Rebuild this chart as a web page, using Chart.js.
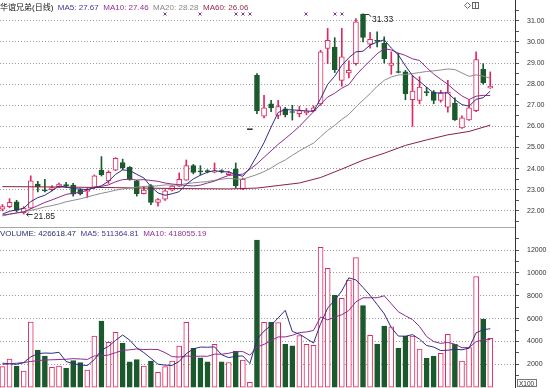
<!DOCTYPE html>
<html>
<head>
<meta charset="utf-8">
<title>华谊兄弟(日线)</title>
<script src="https://cdn.jsdelivr.net/npm/chart.js@4.4.1/dist/chart.umd.min.js"></script>
<style>
  body { margin: 0; background: #fff; }
  #box { position: relative; width: 550px; height: 388px; overflow: hidden; background: #fff; }
  #box canvas { position: absolute; left: 0; }
  #priceChart { top: 0; }
  #volChart { top: 228px; }
</style>
</head>
<body>
<div id="box">
  <canvas id="priceChart" width="550" height="228"></canvas>
  <canvas id="volChart" width="550" height="160"></canvas>
</div>
<script>
// daily candles, index 0 = first visible day
var opens = [22.08,22.2,22.43,21.92,22.13,23.27,23.0,23.0,23.15,23.25,
  23.22,22.98,22.92,23.11,23.93,23.42,23.93,24.29,24.06,23.42,
  22.82,23.2,22.4,22.55,22.98,23.17,23.46,24.14,23.88,23.88,
  23.83,23.88,23.72,23.98,23.03,25.85,28.42,26.48,27.07,26.52,
  26.83,26.68,26.6,26.65,26.75,27.07,29.69,29.76,28.18,28.53,
  28.97,31.32,29.89,30.08,29.93,28.89,28.58,28.58,27.26,27.23,
  27.63,27.62,27.23,26.91,27.1,25.93,26.31,26.75,28.7,27.82];
var closes = [22.2,22.4,22.03,22.13,23.42,23.15,22.95,23.1,23.27,23.18,
  22.79,22.82,22.98,23.66,23.71,23.82,24.49,24.03,23.5,22.82,
  22.98,22.4,22.54,22.95,23.17,23.49,24.14,23.82,23.85,23.86,
  23.87,23.86,23.8,23.19,23.5,25.85,26.74,26.88,26.88,26.94,
  26.56,26.66,26.75,26.72,26.88,29.53,30.08,28.69,29.29,28.66,
  30.95,30.21,30.12,30.03,29.21,29.0,28.55,27.55,27.67,27.86,
  27.6,27.23,27.58,27.62,26.31,26.41,26.88,29.16,28.06,27.9];
var highs = [22.3,22.58,22.5,22.2,23.66,23.4,23.5,23.2,23.32,23.35,
  23.3,23.05,23.08,23.7,24.57,23.9,24.52,24.45,24.1,23.45,
  23.15,23.25,22.58,23.0,23.2,23.8,24.41,24.2,24.14,23.95,
  24.27,23.95,23.88,24.27,23.55,25.85,28.5,27.47,27.23,27.23,
  26.9,27.0,26.95,26.85,26.98,29.6,30.64,30.2,30.64,29.1,
  31.1,31.33,30.45,30.48,30.24,29.53,29.46,28.65,28.42,28.35,
  27.85,27.7,27.7,28.18,27.35,26.5,27.25,29.53,28.97,28.58];
var lows = [22.0,22.15,21.95,21.85,22.1,22.9,22.9,22.95,23.1,23.1,
  22.7,22.75,22.63,23.05,23.65,23.3,23.9,23.95,23.45,22.7,
  22.8,22.3,22.22,22.5,22.95,23.15,23.45,23.75,23.7,23.8,
  23.8,23.8,23.7,23.1,23.0,25.85,26.6,26.4,26.7,26.37,
  26.45,26.3,26.45,26.55,26.72,27.0,28.97,28.55,27.9,28.3,
  28.9,30.0,29.7,29.76,29.0,28.47,28.53,27.26,26.0,27.07,
  27.45,27.07,27.15,26.67,26.28,25.9,26.28,26.7,28.0,27.8];
// volume in hundreds of shares
var volumes = [1800,2470,1850,1420,5700,3250,2730,1740,1850,1650,
  2320,2150,1500,4480,5790,3930,4800,3840,2230,2410,
  1850,2290,1300,1800,2290,3600,5680,3400,2580,2230,
  3750,2230,2150,3170,2380,430,12880,5680,5680,5650,
  3750,3630,4510,3750,3660,12240,10400,8040,7780,9380,
  11330,7130,4540,3780,5350,5290,3400,4480,4480,3340,
  2530,2730,2960,4630,3750,2290,3460,9670,5970,4266];

var ma5 = [21.85,21.98,22.05,22.12,22.44,22.63,22.74,22.95,23.18,23.13,
  23.06,23.03,23.01,23.09,23.19,23.40,23.73,23.94,23.91,23.73,
  23.56,23.15,22.85,22.74,22.81,22.91,23.26,23.51,23.69,23.83,
  23.91,23.85,23.85,23.72,23.64,24.04,24.62,25.23,25.97,26.66,
  26.80,26.78,26.76,26.73,26.71,27.31,27.99,28.38,28.89,29.25,
  29.53,29.56,29.85,29.99,30.10,29.71,29.38,28.87,28.40,28.13,
  27.85,27.58,27.59,27.58,27.27,27.03,26.96,27.28,27.36,27.67];
var ma10 = [21.80,21.85,21.90,21.95,22.10,22.25,22.40,22.52,22.65,22.78,
  22.84,22.88,22.98,23.13,23.16,23.23,23.38,23.48,23.50,23.46,
  23.48,23.44,23.40,23.32,23.27,23.24,23.20,23.18,23.22,23.32,
  23.41,23.56,23.68,23.71,23.74,23.97,24.23,24.54,24.84,25.15,
  25.42,25.70,26.00,26.35,26.69,27.05,27.39,27.57,27.81,27.98,
  28.42,28.78,29.11,29.44,29.68,29.62,29.47,29.36,29.20,29.12,
  28.78,28.48,28.23,27.99,27.70,27.44,27.27,27.43,27.47,27.46];
var ma20 = [21.76,21.84,21.9,21.97,22.02,22.1,22.19,22.25,22.33,22.43,
  22.5,22.57,22.66,22.75,22.83,22.9,22.98,23.04,23.08,23.12,
  23.16,23.16,23.19,23.23,23.22,23.23,23.29,23.33,23.36,23.39,
  23.45,23.50,23.54,23.51,23.50,23.61,23.72,23.86,24.03,24.24,
  24.41,24.63,24.84,25.03,25.21,25.51,25.81,26.05,26.33,26.57,
  26.92,27.24,27.55,27.90,28.18,28.34,28.43,28.46,28.50,28.55,
  28.60,28.63,28.67,28.72,28.69,28.53,28.37,28.44,28.38,28.28];
var ma60Days = [0,8,16,24,32,36,39,42,45,48,51,54,57,60,63,66,69];
var ma60 = [23.15,23.13,23.1,23.06,23.04,23.08,23.2,23.32,23.58,23.98,24.4,24.73,25.1,25.36,25.6,25.76,26.06];

var volMa5 = [2100,2050,2000,2150,2648,2938,2990,2968,3054,2244,
  2058,1942,1894,2420,3248,3570,4100,4568,4118,3442,
  3026,2524,2016,1930,1906,2256,2934,3354,3510,3498,
  3528,2838,2588,2706,2736,2072,4202,4908,5410,6064,
  6728,4878,4644,4258,3860,5558,6912,7618,8424,9568,
  9386,8732,8032,7232,6426,5218,4472,4460,4600,4198,
  3646,3512,3208,3238,3320,3272,3418,4760,5028,5114];
var volMa10 = [2000,2050,2100,2150,2250,2330,2380,2400,2420,2446,
  2498,2466,2431,2737,2746,2814,3021,3231,3269,3345,
  3298,3312,3292,3024,2674,2641,2729,2685,2720,2702,
  2892,2886,2971,3108,3117,2800,3520,3748,4058,4400,
  4400,4540,4776,4834,4962,6143,5895,6131,6341,6714,
  7472,7822,7825,7828,7997,7302,6602,6246,5916,5312,
  4432,3992,3834,3919,3759,3459,3465,3986,4135,4181];

var eventDays = [23,28,33,34,35,43,47,48];
var priceTicks = [22,23,24,25,26,27,28,29,30,31];
var volTicks = [2000,4000,6000,8000,10000,12000];

var pink = '#e0285e', green = '#1a5a2c', flat = '#222';
var fontFam = "'Liberation Sans', 'Noto Sans CJK SC', sans-serif";
Chart.defaults.font.family = fontFam;

function candleColor(i) {
  if (closes[i] > opens[i]) return pink;
  if (closes[i] < opens[i]) return green;
  return flat;
}
function withMinor(list, half) {
  var out = [];
  list.forEach(function(v) { out.push(v - half, v); });
  out.push(list[list.length - 1] + half);
  return out;
}
function points(arr) { return arr.map(function(v, i) { return {x: i, y: v}; }); }

var xScale = { type: 'linear', display: false, min: -0.35, max: 72.5, offset: false };

function rightAxis(min, max, major, half, fmt) {
  return {
    position: 'right', min: min, max: max,
    afterFit: function(s) { s.width = 35; s.paddingTop = 0; s.paddingBottom = 0; },
    afterBuildTicks: function(s) { s.ticks = withMinor(major, half).map(function(v) { return {value: v}; }); },
    ticks: { autoSkip: false, padding: 8, color: '#333', font: {size: 7},
      callback: function(v) { return major.indexOf(v) >= 0 ? fmt(v) : ''; } },
    grid: { color: function(c) { return c.tick && major.indexOf(c.tick.value) >= 0 ? '#9a9a9a' : 'rgba(0,0,0,0)'; },
      tickColor: '#555', tickLength: 4 },
    border: { display: true, color: '#333', width: 1, dash: [1, 2] }
  };
}

function drawSegments(ctx, segs, x, y, gap) {
  segs.forEach(function(s) {
    ctx.fillStyle = s.c;
    ctx.fillText(s.t, x, y);
    x += ctx.measureText(s.t).width + gap;
  });
}

var priceDeco = {
  id: 'priceDeco',
  afterDraw: function(chart) {
    var ctx = chart.ctx, xs = chart.scales.x, ys = chart.scales.y, area = chart.chartArea;
    ctx.save();
    ctx.fillStyle = '#a8a8a8';
    ctx.fillRect(0, area.bottom - 1, area.right, 2);

    ctx.font = '8px ' + fontFam;
    ctx.textBaseline = 'alphabetic';
    drawSegments(ctx, [
      {t: '华谊兄弟(日线)', c: '#111'},
      {t: 'MA5: ' + ma5[ma5.length - 1].toFixed(2), c: '#40389a'},
      {t: 'MA10: ' + ma10[ma10.length - 1].toFixed(2), c: '#93309a'},
      {t: 'MA20: ' + ma20[ma20.length - 1].toFixed(2), c: '#888'},
      {t: 'MA60: ' + ma60[ma60.length - 1].toFixed(2), c: '#9a2a48'}
    ], 0, 9.5, 4.5);

    // event markers along the top
    ctx.strokeStyle = '#7a3a8c';
    ctx.lineWidth = 1;
    eventDays.forEach(function(d) {
      var px = Math.round(xs.getPixelForValue(d)), py = 14;
      ctx.beginPath();
      ctx.moveTo(px - 1.5, py - 1.5); ctx.lineTo(px + 1.5, py + 1.5);
      ctx.moveTo(px + 1.5, py - 1.5); ctx.lineTo(px - 1.5, py + 1.5);
      ctx.stroke();
    });

    // highest high / lowest low labels
    var hi = highs.indexOf(Math.max.apply(null, highs));
    var lo = lows.indexOf(Math.min.apply(null, lows));
    ctx.strokeStyle = '#333';
    ctx.fillStyle = '#222';
    ctx.font = '8.5px ' + fontFam;
    var hx = xs.getPixelForValue(hi), hy = ys.getPixelForValue(highs[hi]);
    ctx.beginPath();
    ctx.moveTo(hx + 2, Math.round(hy) + 0.5); ctx.lineTo(hx + 6, Math.round(hy) + 0.5); ctx.lineTo(hx + 8, hy + 3);
    ctx.stroke();
    ctx.fillText(highs[hi].toFixed(2), hx + 9, hy + 8);
    var lx = xs.getPixelForValue(lo), ly = ys.getPixelForValue(lows[lo]);
    var ay = Math.round(ly) + 0.5;
    ctx.beginPath();
    ctx.moveTo(lx + 3, ay); ctx.lineTo(lx + 9, ay);
    ctx.moveTo(lx + 3, ay); ctx.lineTo(lx + 5, ay - 2);
    ctx.moveTo(lx + 3, ay); ctx.lineTo(lx + 5, ay + 2);
    ctx.stroke();
    ctx.fillText(lows[lo].toFixed(2), lx + 10, ly + 4.5);

    // small icons at top right
    ctx.strokeStyle = '#666';
    ctx.beginPath();
    ctx.moveTo(467.5, 2.5); ctx.lineTo(470.5, 5.5); ctx.lineTo(467.5, 8.5); ctx.lineTo(464.5, 5.5); ctx.closePath();
    ctx.stroke();
    ctx.strokeRect(472.5, 2.5, 6, 6);
    ctx.beginPath(); ctx.moveTo(475.5, 2.5); ctx.lineTo(475.5, 8.5); ctx.stroke();
    ctx.restore();
  }
};

var volDeco = {
  id: 'volDeco',
  afterDraw: function(chart) {
    var ctx = chart.ctx;
    ctx.save();
    ctx.font = '8px ' + fontFam;
    drawSegments(ctx, [
      {t: 'VOLUME: 426618.47', c: '#2a3170'},
      {t: 'MA5: 511364.81', c: '#40389a'},
      {t: 'MA10: 418055.19', c: '#93309a'}
    ], 0, 7.5, 4.5);
    ctx.strokeStyle = '#777';
    ctx.fillStyle = '#fff';
    ctx.fillRect(517, 151, 20, 8);
    ctx.strokeRect(517.5, 151.5, 19, 7);
    ctx.fillStyle = '#333';
    ctx.font = '6.5px ' + fontFam;
    ctx.fillText('X100', 519, 158);
    ctx.restore();
  }
};

function lineSet(data, color) {
  return { type: 'line', data: data, borderColor: color, borderWidth: 1, pointRadius: 0, tension: 0, order: 0 };
}

var idx = opens.map(function(v, i) { return i; });

new Chart(document.getElementById('priceChart'), {
  type: 'bar',
  data: {
    datasets: [
      lineSet(points(ma5), '#2f2c85'),
      lineSet(points(ma10), '#8e2b90'),
      lineSet(points(ma20), '#8c8c8c'),
      lineSet(ma60Days.map(function(d, k) { return {x: d, y: ma60[k]}; }), '#8a1f40'),
      { type: 'bar', order: 2, grouped: false, barThickness: 5, minBarLength: 1, borderWidth: 1, borderSkipped: false,
        data: idx.map(function(i) { return {x: i, y: [opens[i], closes[i]]}; }),
        backgroundColor: idx.map(function(i) { return closes[i] > opens[i] ? '#fff' : candleColor(i); }),
        borderColor: idx.map(candleColor) },
      { type: 'bar', order: 3, grouped: false, barThickness: 1, borderWidth: 0,
        data: idx.map(function(i) { return {x: i, y: [lows[i], highs[i]]}; }),
        backgroundColor: idx.map(candleColor) }
    ]
  },
  options: {
    responsive: false, animation: false, devicePixelRatio: 1, events: [],
    layout: { padding: 0 },
    plugins: { legend: { display: false }, tooltip: { enabled: false } },
    scales: {
      x: xScale,
      y: rightAxis(21.19, 31.984, priceTicks, 0.5, function(v) { return v.toFixed(2); })
    }
  },
  plugins: [priceDeco]
});

new Chart(document.getElementById('volChart'), {
  type: 'bar',
  data: {
    datasets: [
      lineSet(points(volMa5), '#2f2c85'),
      lineSet(points(volMa10), '#8e2b90'),
      { type: 'bar', order: 2, grouped: false, barThickness: 5, borderWidth: 1, borderSkipped: false,
        data: idx.map(function(i) { return {x: i, y: volumes[i]}; }),
        backgroundColor: idx.map(function(i) { return closes[i] >= opens[i] ? '#fff' : green; }),
        borderColor: idx.map(function(i) { return closes[i] >= opens[i] ? pink : green; }) }
    ]
  },
  options: {
    responsive: false, animation: false, devicePixelRatio: 1, events: [],
    layout: { padding: 0 },
    plugins: { legend: { display: false }, tooltip: { enabled: false } },
    scales: {
      x: xScale,
      y: rightAxis(-70, 13928, volTicks, 1000, function(v) { return String(v); })
    }
  },
  plugins: [volDeco]
});
</script>
</body>
</html>
